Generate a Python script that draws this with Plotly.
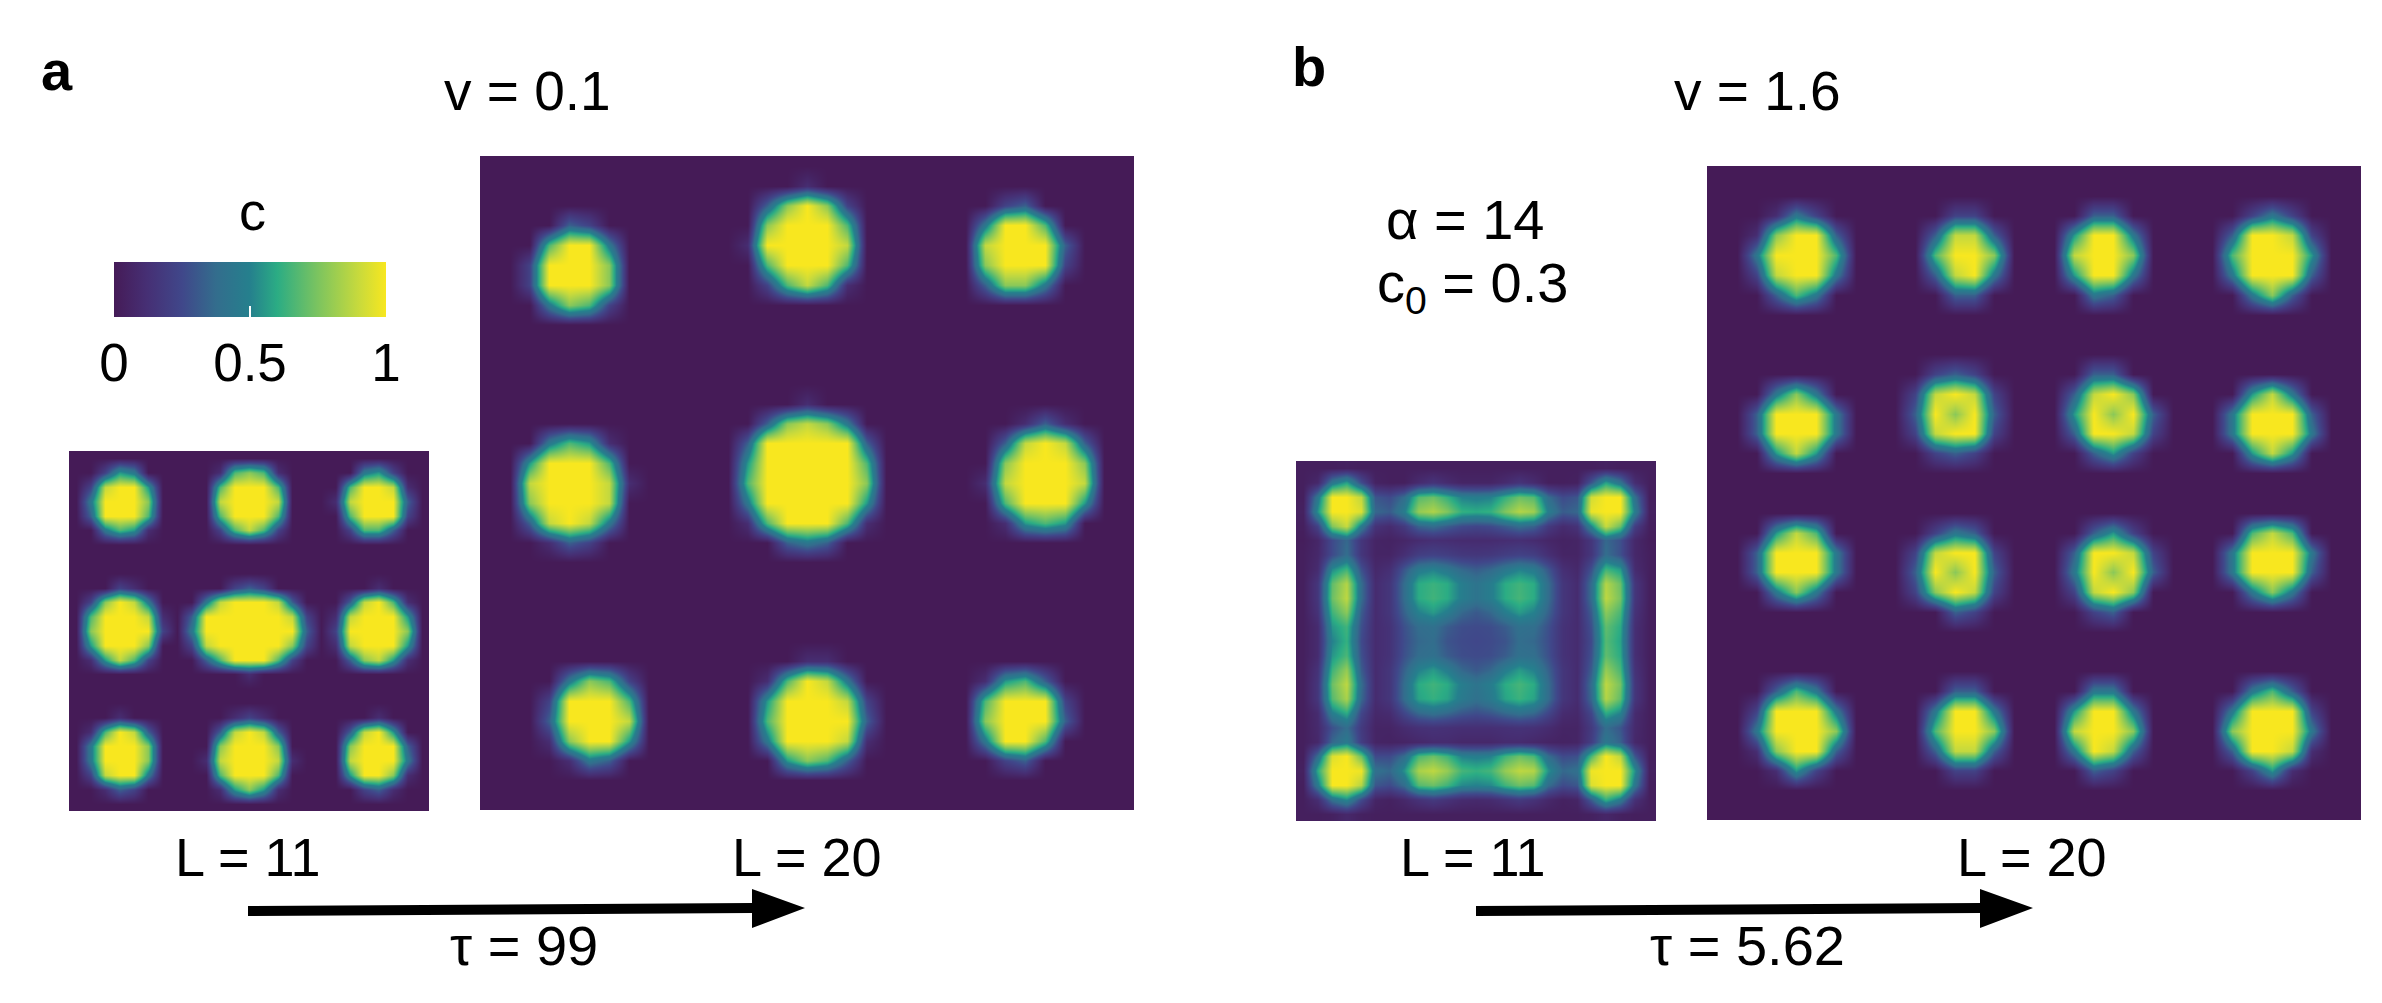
import plotly.graph_objects as go

W, H = 2382, 1003

# fields, one digit per cell: 0 = c 0, 9 = c 1
a_small_rows = [
    "0000000000000000000000000",
    "0025400000167610000045200",
    "0289950000699960000699810",
    "0499970000899980001899930",
    "0399960000699960000699920",
    "0046510000268620000266300",
    "0000000000000000000000000",
    "0000000000000000000000000",
    "0000000000000000000000000",
    "0002100000023200000001000",
    "0279840004899983000389610",
    "0699981039999998201899950",
    "0799992049999999302999970",
    "0599970028999997201899950",
    "0158620003699962000378510",
    "0000000000001000000000000",
    "0000000000000000000000000",
    "0000000000000000000000000",
    "0001000000012100000001000",
    "0169830000389830000389500",
    "0499970000799970000799930",
    "0499970001899981000899940",
    "0289940000699960000599710",
    "0013200000157510000023100",
    "0000000000000000000000000",
]
a_large_rows = [
    "000000000000000000000000000000000",
    "000000000000000010000000000000000",
    "000000000000003797200000002300000",
    "000032000000007999600000049960000",
    "000699400000019999800000089993000",
    "002999700000006999600000079992000",
    "002999700000002686100000037740000",
    "000476200000000000000000000000000",
    "000000000000000000000000000000000",
    "000000000000000000000000000000000",
    "000000000000000000000000000000000",
    "000000000000000000000000000000000",
    "000000000000000010000000000000000",
    "000000000000003787400000000131000",
    "000465100000039999930000003898300",
    "005999600000059999960000007999700",
    "008999810000069999970000018999800",
    "007999800000049999950000006999500",
    "003898400000016999610000001565000",
    "000132000000000343000000000000000",
    "000000000000000000000000000000000",
    "000000000000000000000000000000000",
    "000000000000000000000000000000000",
    "000000000000000000000000000000000",
    "000000000000000000000000000000000",
    "000000000000000011000000000000000",
    "000047620000001698400000015630000",
    "000299960000005999820000069992000",
    "000399980000006999930000079993000",
    "000179950000004999810000049960000",
    "000014300000000576300000002300000",
    "000000000000000000000000000000000",
    "000000000000000000000000000000000",
]
# this one is soft all over, so two digits per cell: c in hundredths
b_small_cells = [
    [3, 3, 3, 4, 3, 3, 3, 3, 3, 3, 3, 3, 3, 3, 3, 3, 3, 3, 3, 3, 3, 4, 3, 3, 3],
    [3, 8, 44, 58, 27, 5, 3, 3, 10, 15, 10, 6, 6, 6, 10, 15, 10, 3, 3, 4, 30, 58, 42, 11, 3],
    [3, 44, 100, 100, 88, 30, 26, 38, 68, 72, 62, 50, 48, 50, 62, 72, 68, 38, 26, 30, 92, 100, 100, 40, 3],
    [4, 54, 100, 100, 94, 36, 32, 48, 80, 85, 76, 62, 60, 62, 76, 86, 82, 48, 32, 36, 97, 100, 100, 48, 4],
    [3, 22, 76, 90, 46, 14, 10, 18, 34, 38, 32, 26, 24, 26, 32, 38, 34, 18, 10, 14, 50, 90, 72, 20, 3],
    [2, 7, 26, 36, 16, 6, 5, 7, 10, 12, 11, 10, 10, 10, 11, 12, 10, 7, 5, 6, 16, 36, 28, 8, 2],
    [3, 8, 26, 38, 16, 6, 6, 12, 20, 22, 20, 17, 16, 17, 20, 22, 20, 12, 6, 6, 16, 38, 28, 8, 3],
    [3, 10, 52, 64, 28, 8, 12, 30, 46, 50, 44, 36, 32, 36, 44, 50, 46, 30, 12, 8, 28, 64, 56, 10, 3],
    [3, 16, 70, 86, 38, 10, 16, 38, 60, 63, 60, 48, 42, 48, 60, 64, 60, 38, 16, 10, 38, 86, 72, 16, 3],
    [3, 16, 72, 88, 38, 10, 16, 38, 60, 64, 60, 48, 42, 48, 60, 65, 60, 38, 16, 10, 38, 88, 74, 16, 3],
    [3, 14, 64, 78, 32, 10, 16, 34, 50, 56, 48, 36, 31, 36, 48, 56, 50, 34, 16, 10, 32, 78, 66, 14, 3],
    [3, 10, 55, 64, 28, 10, 14, 28, 38, 40, 32, 27, 26, 27, 32, 40, 39, 28, 14, 10, 28, 70, 60, 12, 3],
    [3, 10, 50, 62, 26, 10, 14, 27, 36, 38, 29, 26, 25, 26, 29, 38, 36, 27, 14, 10, 26, 68, 58, 12, 3],
    [3, 10, 55, 66, 28, 10, 14, 28, 38, 40, 32, 27, 26, 27, 32, 40, 39, 28, 14, 10, 28, 70, 60, 12, 3],
    [3, 14, 64, 80, 32, 10, 16, 34, 50, 56, 48, 36, 31, 36, 48, 56, 50, 34, 16, 10, 32, 80, 66, 14, 3],
    [3, 16, 72, 88, 38, 10, 16, 38, 60, 64, 60, 48, 42, 48, 60, 65, 60, 38, 16, 10, 38, 88, 74, 16, 3],
    [3, 16, 68, 84, 36, 10, 16, 38, 58, 62, 58, 46, 40, 46, 58, 63, 58, 38, 16, 10, 36, 86, 70, 16, 3],
    [3, 10, 48, 60, 24, 8, 10, 24, 36, 40, 36, 30, 27, 30, 36, 40, 36, 24, 10, 8, 24, 60, 50, 10, 3],
    [3, 9, 28, 38, 18, 6, 6, 10, 13, 14, 13, 12, 12, 12, 13, 14, 13, 10, 6, 6, 18, 38, 30, 9, 3],
    [3, 8, 36, 46, 20, 6, 5, 6, 8, 10, 10, 8, 8, 8, 10, 10, 8, 6, 5, 6, 20, 44, 34, 8, 3],
    [3, 38, 94, 100, 72, 26, 26, 38, 66, 72, 64, 50, 48, 50, 64, 72, 66, 38, 26, 28, 66, 100, 88, 30, 3],
    [4, 60, 100, 100, 98, 40, 36, 54, 84, 88, 80, 65, 62, 65, 80, 88, 86, 54, 36, 40, 98, 100, 100, 54, 4],
    [3, 46, 100, 100, 86, 30, 26, 38, 68, 72, 64, 52, 50, 52, 64, 72, 68, 38, 26, 30, 94, 100, 100, 44, 3],
    [3, 11, 40, 52, 26, 6, 4, 8, 14, 18, 14, 10, 9, 10, 14, 18, 14, 8, 4, 6, 32, 62, 46, 13, 3],
    [3, 3, 4, 8, 4, 3, 3, 3, 3, 3, 3, 3, 3, 3, 3, 3, 3, 3, 3, 3, 4, 7, 4, 3, 3],
]
b_large_rows = [
    "000000000000000000000000000000000",
    "000000000000000000000000000000000",
    "000142000000220000033000000242000",
    "001799300003883000599400003998200",
    "004999600006997000899700006999500",
    "002899400003894000599400004999300",
    "000364000000330000043000000473000",
    "000000000000000000000000000000000",
    "000000000000000000000000000000000",
    "000000000000000000000000000000000",
    "000000000002320000033000000000000",
    "000474000028982000389700000584000",
    "003999400039793000597930004999300",
    "003999400028992000399820004999400",
    "000585000002320000035200000585000",
    "000000000000000000000000000000000",
    "000000000000000000000000000000000",
    "000000000000000000000000000000000",
    "000586000002430000035200000686000",
    "003999400028992000399820004999400",
    "003999400039793000497930004999300",
    "000474000027982000289700000474000",
    "000000000000320000023000000000000",
    "000000000000000000000000000000000",
    "000000000000000000000000000000000",
    "000000000000000000000000000000000",
    "000364000000330000044000000463000",
    "002999400004994000599400004999200",
    "004999700006997000899700007999400",
    "001799300003883000498300003998100",
    "000152000000220000032000000251000",
    "000000000000000000000000000000000",
    "000000000000000000000000000000000",
]

cbar_ticks = [0, 0.5, 1]
cbar_labels = ["0", "0.5", "1"]

a_small_z = [[int(ch) / 9 for ch in row] for row in a_small_rows]
a_large_z = [[int(ch) / 9 for ch in row] for row in a_large_rows]
b_small_z = [[v / 100 for v in row] for row in b_small_cells]
b_large_z = [[int(ch) / 9 for ch in row] for row in b_large_rows]

# panel boxes in pixels: left, top, size
panels = [
    (a_small_z, 69, 451, 360),
    (a_large_z, 480, 156, 654),
    (b_small_z, 1296, 461, 360),
    (b_large_z, 1707, 166, 654),
]

c_scale = [
    [0, "#451b57"], [0.12, "#462f74"], [0.25, "#40478a"], [0.375, "#336d8d"],
    [0.5, "#25808d"], [0.6, "#2bac84"], [0.75, "#7cc45f"], [0.9, "#c8da3c"], [1, "#f8e71f"],
]


def px(x):
    return x / W


def py(y):
    return 1 - y / H


fig = go.Figure()

for i, (z, left, top, size) in enumerate(panels):
    suffix = "" if i == 0 else str(i + 1)
    fig.add_trace(go.Heatmap(z=z, coloraxis="coloraxis", zsmooth="best", hoverinfo="skip",
                             xaxis="x" + suffix, yaxis="y" + suffix))
    n = len(z)
    fig.update_layout({
        "xaxis" + suffix: dict(domain=[px(left), px(left + size)], range=[-0.5, n - 0.5], visible=False),
        "yaxis" + suffix: dict(domain=[py(top + size), py(top)], range=[n - 0.5, -0.5], visible=False),
    })

font = "Liberation Sans"
notes = [
    ("<b>a</b>", 57, 70, 56, "center"),
    ("<b>b</b>", 1309, 66, 56, "center"),
    ("c", 252, 211, 54, "center"),
    ("v = 0.1", 527, 91, 55, "center"),
    ("v = 1.6", 1757, 91, 55, "center"),
    ("α = 14", 1384, 219, 56, "left"),
    ("c<sub>0</sub> = 0.3", 1375, 287, 56, "left"),
    ("L = 11", 248, 857, 54, "center"),
    ("L = 20", 807, 857, 54, "center"),
    ("L = 11", 1473, 857, 54, "center"),
    ("L = 20", 2032, 857, 54, "center"),
    ("τ = 99", 524, 945, 56, "center"),
    ("τ = 5.62", 1747, 945, 56, "center"),
]
for text, x, y, fs, anchor in notes:
    fig.add_annotation(text=text, x=px(x), y=py(y), xref="paper", yref="paper", showarrow=False,
                       xanchor=anchor, yanchor="middle", font=dict(family=font, size=fs, color="black"))

# arrows below the panels: start x, tip x
for x0, x1 in [(248, 805), (1476, 2033)]:
    fig.add_shape(type="path", xref="paper", yref="paper", fillcolor="black", line_width=0,
                  path=f"M{px(x0)},{py(906)} L{px(x1 - 53)},{py(903)} L{px(x1 - 53)},{py(889)} "
                       f"L{px(x1)},{py(908)} L{px(x1 - 53)},{py(928)} L{px(x1 - 53)},{py(913)} "
                       f"L{px(x0)},{py(916)} Z")

# little white ticks on the top edge of the colour bar
for t in cbar_ticks:
    x = 114 + t * 272
    fig.add_shape(type="line", xref="paper", yref="paper", x0=px(x), x1=px(x), y0=py(262), y1=py(272),
                  line=dict(color="white", width=1.5))

fig.update_layout(
    width=W, height=H,
    margin=dict(l=0, r=0, t=0, b=0, autoexpand=False),
    paper_bgcolor="white", plot_bgcolor="white",
    font=dict(family=font, color="black"),
    coloraxis=dict(
        colorscale=c_scale, cmin=0, cmax=1,
        colorbar=dict(
            orientation="h", x=px(250), xanchor="center", y=py(262), yanchor="top",
            len=272, lenmode="pixels", thickness=55, thicknessmode="pixels",
            xpad=0, ypad=0, outlinewidth=0,
            tickvals=cbar_ticks, ticktext=cbar_labels, ticks="inside", ticklen=11, tickcolor="white",
            tickwidth=1.5, tickfont=dict(family=font, size=53),
        ),
    ),
)

fig.write_html("out.html", config=dict(displayModeBar=False), post_script="document.body.style.margin='0'")
